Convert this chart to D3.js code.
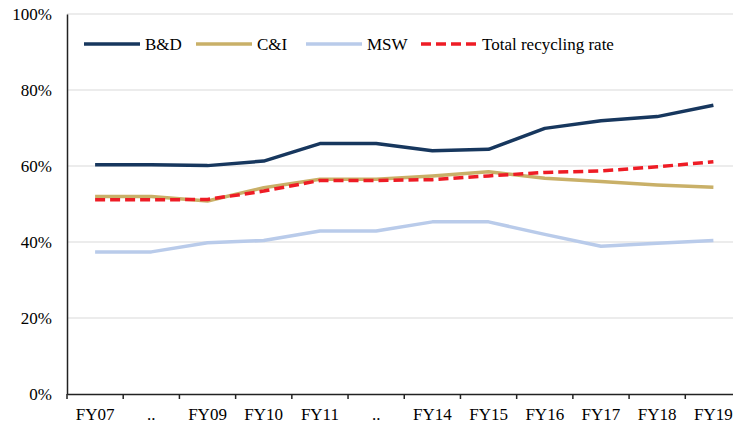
<!DOCTYPE html>
<html><head><meta charset="utf-8">
<script src="https://cdn.jsdelivr.net/npm/d3@7"></script>
<style>body{margin:0;background:#fff}svg{display:block}</style>
</head><body>
<svg id="c" width="733" height="423"></svg>
<script>
const categories = ["FY07","..","FY09","FY10","FY11","..","FY14","FY15","FY16","FY17","FY18","FY19"];
const bd    = [60.3,60.3,60.1,61.3,65.9,65.9,64.0,64.4,69.9,71.9,73.0,76.0];
const ci    = [52.0,52.0,50.8,54.3,56.5,56.5,57.4,58.5,56.8,55.9,55.0,54.4];
const msw   = [37.4,37.4,39.8,40.4,42.9,42.9,45.3,45.3,42.0,38.9,39.7,40.4];
const total = [51.1,51.1,51.2,53.4,56.2,56.2,56.4,57.4,58.3,58.7,59.8,61.1];
const yTicks = [0,20,40,60,80,100];
const seriesNames = ["B&D","C&I","MSW","Total recycling rate"];

(function(){
const svg = d3.select("#c");
const pL = 67, pR = 741.5, pT = 14, pB = 394;
const idx = categories.map((d,i)=>i);
const x = d3.scaleBand().domain(idx).range([pL,pR]);
const y = d3.scaleLinear().domain([0,100]).range([pB,pT]);
const styleText = sel => sel.style("font-family","Liberation Serif").style("font-size","17px").style("fill","#000");

// gridlines
svg.append("g").selectAll("line").data(yTicks.filter(t=>t>0)).join("line")
  .attr("x1",pL).attr("x2",733).attr("y1",d=>y(d)).attr("y2",d=>y(d))
  .attr("stroke","#d9d9d9").attr("stroke-width",1.2);

// y axis
const ya = svg.append("g").attr("transform",`translate(${pL},0)`)
  .call(d3.axisLeft(y).tickValues(yTicks).tickFormat(d=>d+"%").tickSize(0).tickPadding(15));
ya.attr("font-family",null).attr("font-size",null);
ya.select(".domain").attr("stroke","#222").attr("stroke-width",1.5);
styleText(ya.selectAll("text"));

// x axis
const xa = svg.append("g").attr("transform",`translate(0,${pB})`)
  .call(d3.axisBottom(x).tickFormat(i=>categories[i]).tickSize(0).tickPadding(14));
xa.attr("font-family",null).attr("font-size",null);
xa.select(".domain").attr("stroke","#222").attr("stroke-width",1.5);
styleText(xa.selectAll("text"));
xa.selectAll(".sep").data(idx).join("line").attr("class","sep")
  .attr("x1",i=>x(i)).attr("x2",i=>x(i)).attr("y1",0).attr("y2",5)
  .attr("stroke","#222").attr("stroke-width",1.5);

const cx = i => x(i) + x.bandwidth()/2;
const line = d3.line().x((d,i)=>cx(i)).y(d=>y(d));
const series = [
  {name:seriesNames[0], data:bd, color:"#17375e", dash:null},
  {name:seriesNames[1], data:ci, color:"#c9b068", dash:null},
  {name:seriesNames[2], data:msw, color:"#b9cbea", dash:null},
  {name:seriesNames[3], data:total, color:"#ee1c25", dash:"10,5"}
];
const drawOrder = [2,1,3,0];
drawOrder.forEach(k=>{
  const s = series[k];
  svg.append("path").attr("d",line(s.data)).attr("fill","none")
    .attr("stroke",s.color).attr("stroke-width",3.5)
    .attr("stroke-linejoin","round")
    .attr("stroke-dasharray",s.dash);
});

// legend
const legX = [84,196,306,421];
const lg = svg.append("g");
series.forEach((s,k)=>{
  lg.append("line").attr("x1",legX[k]).attr("x2",legX[k]+56).attr("y1",44).attr("y2",44)
    .attr("stroke",s.color).attr("stroke-width",3.5).attr("stroke-dasharray",s.dash);
  styleText(lg.append("text").attr("x",legX[k]+61).attr("y",44).attr("dy","0.35em").text(s.name));
});
})();
</script>
</body></html>
